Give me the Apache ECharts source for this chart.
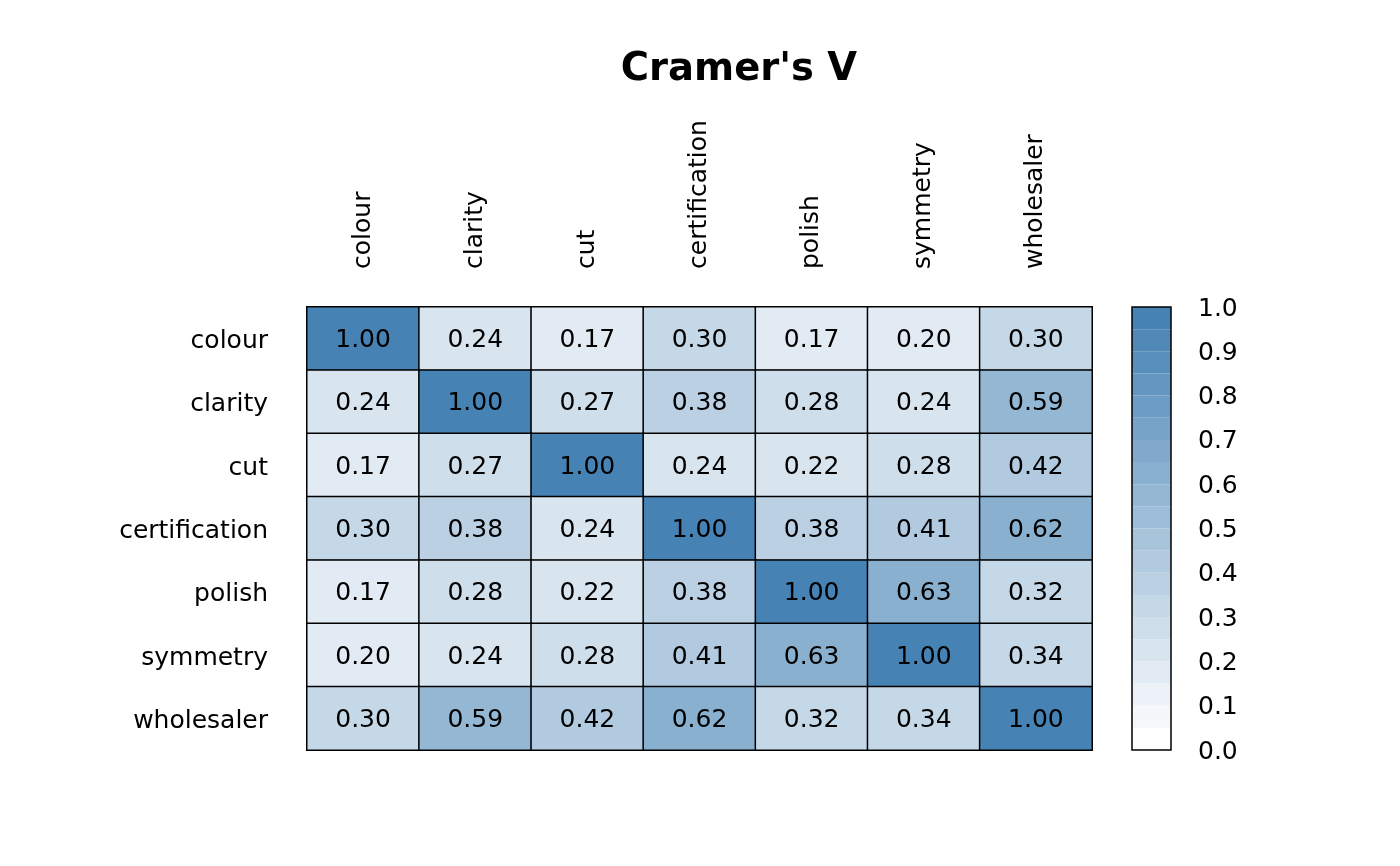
<!DOCTYPE html>
<html>
<head>
<meta charset="utf-8">
<script src="https://cdn.jsdelivr.net/npm/echarts@6/dist/echarts.min.js"></script>
<style>
  html, body { margin: 0; padding: 0; background: #fff; }
  #chart { width: 1400px; height: 866px; }
</style>
</head>
<body>
<div id="chart"></div>
<script>
// variables, same order on both axes
let vars = ['colour', 'clarity', 'cut', 'certification', 'polish', 'symmetry', 'wholesaler'];

// Cramer's V, row by row (0.20 cells sit in the lower colour band, so just under 0.20)
let rowColour        = [1.00, 0.24, 0.17, 0.30, 0.17, 0.199, 0.30];
let rowClarity       = [0.24, 1.00, 0.27, 0.38, 0.28, 0.24, 0.59];
let rowCut           = [0.17, 0.27, 1.00, 0.24, 0.22, 0.28, 0.42];
let rowCertification = [0.30, 0.38, 0.24, 1.00, 0.38, 0.41, 0.62];
let rowPolish        = [0.17, 0.28, 0.22, 0.38, 1.00, 0.63, 0.32];
let rowSymmetry      = [0.199, 0.24, 0.28, 0.41, 0.63, 1.00, 0.34];
let rowWholesaler    = [0.30, 0.59, 0.42, 0.62, 0.32, 0.34, 1.00];
let rows = [rowColour, rowClarity, rowCut, rowCertification, rowPolish, rowSymmetry, rowWholesaler];

// colour key: 20 bands of 0.05, tick labels every 0.1
let nBins = 20;
let keyTicks = ['0.0', '0.1', '0.2', '0.3', '0.4', '0.5', '0.6', '0.7', '0.8', '0.9', '1.0'];

function binColor(k) {
    // white -> steelblue in equal steps
    let t = k / (nBins - 1);
    let r = Math.round(255 + (70 - 255) * t);
    let g = Math.round(255 + (130 - 255) * t);
    let b = Math.round(255 + (180 - 255) * t);
    return 'rgb(' + r + ',' + g + ',' + b + ')';
}

let pieces = [];
let keyData = [];
for (let k = 0; k < nBins; k++) {
    let lo = k / nBins, hi = (k + 1) / nBins;
    let p = { gte: lo, color: binColor(k) };
    if (k < nBins - 1) p.lt = hi; else p.lte = hi;
    pieces.push(p);
    keyData.push([lo, hi, k]);
}

let cells = [];
rows.forEach(function (row, i) {
    row.forEach(function (v, j) {
        cells.push([j, i, v]);
    });
});

let font = 'DejaVu Sans';
let chart = echarts.init(document.getElementById('chart'));

let option = {
    animation: false,
    backgroundColor: '#fff',
    title: {
        text: "Cramer's V",
        left: 734,
        top: 45,
        textAlign: 'center',
        textStyle: { fontFamily: font, fontSize: 38.5, fontWeight: 'bold', color: '#000' }
    },
    visualMap: {
        show: false,
        type: 'piecewise',
        seriesIndex: 0,
        dimension: 2,
        pieces: pieces
    },
    grid: [
        { left: 307, top: 307, width: 785, height: 443 },
        { left: 1132, top: 307, width: 39, height: 443, show: true, z: 10,
          backgroundColor: 'transparent', borderColor: '#000', borderWidth: 1.5 }
    ],
    xAxis: [
        {
            gridIndex: 0,
            type: 'category',
            data: vars,
            position: 'top',
            axisLine: { show: false },
            axisTick: { show: false },
            splitLine: { show: false },
            axisLabel: { rotate: -90, margin: 38, color: '#000', fontFamily: font, fontSize: 25, interval: 0 }
        },
        {
            gridIndex: 1,
            type: 'value',
            min: 0,
            max: 1,
            show: false
        }
    ],
    yAxis: [
        {
            gridIndex: 0,
            type: 'category',
            data: vars,
            inverse: true,
            axisLine: { show: false },
            axisTick: { show: false },
            splitLine: { show: false },
            axisLabel: {
                margin: 39, color: '#000', fontFamily: font, fontSize: 25, interval: 0,
                formatter: function (v) { return '{t|' + v + '}'; },
                rich: { t: { fontFamily: font, fontSize: 25, color: '#000', padding: [6, 0, 0, 0] } }
            }
        },
        {
            gridIndex: 1,
            type: 'value',
            min: 0,
            max: 1,
            interval: 0.1,
            position: 'right',
            axisLine: { show: false },
            axisTick: { show: false },
            splitLine: { show: false },
            axisLabel: {
                margin: 27,
                color: '#000',
                fontFamily: font,
                fontSize: 25,
                formatter: function (v) { return '{t|' + keyTicks[Math.round(v * 10)] + '}'; },
                rich: { t: { fontFamily: font, fontSize: 25, color: '#000', padding: [4, 0, 0, 0] } }
            }
        }
    ],
    series: [
        {
            type: 'heatmap',
            xAxisIndex: 0,
            yAxisIndex: 0,
            data: cells,
            itemStyle: { borderColor: '#000', borderWidth: 1.5 },
            label: {
                show: true,
                color: '#000',
                fontFamily: font,
                fontSize: 25,
                offset: [0, 2],
                formatter: function (p) { return p.value[2].toFixed(2); }
            },
            emphasis: { disabled: true }
        },
        {
            type: 'custom',
            xAxisIndex: 1,
            yAxisIndex: 1,
            data: keyData,
            renderItem: function (params, api) {
                let p0 = api.coord([0, api.value(0)]);
                let p1 = api.coord([1, api.value(1)]);
                return {
                    type: 'rect',
                    shape: { x: p0[0], y: p1[1], width: p1[0] - p0[0], height: p0[1] - p1[1] },
                    style: { fill: binColor(api.value(2)) }
                };
            }
        }
    ]
};

chart.setOption(option);
</script>
</body>
</html>
